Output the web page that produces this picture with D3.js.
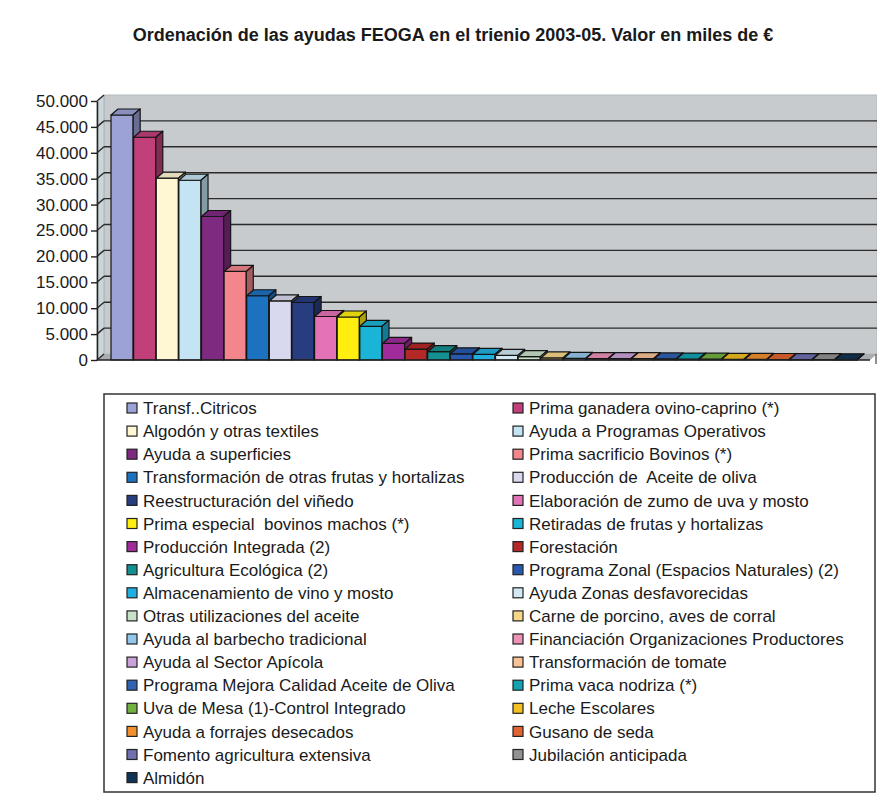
<!DOCTYPE html>
<html>
<head>
<meta charset="utf-8">
<script src="https://cdn.jsdelivr.net/npm/d3@7"></script>
<style>
  body { margin: 0; background: #fff; }
  text { font-family: "Liberation Sans", Arial, sans-serif; fill: #1a1a1a; white-space: pre; }
</style>
</head>
<body>
<div id="chart"></div>
<script>
const categories = [
  "Transf..Citricos", "Prima ganadera ovino-caprino (*)",
  "Algodón y otras textiles", "Ayuda a Programas Operativos",
  "Ayuda a superficies", "Prima sacrificio Bovinos (*)",
  "Transformación de otras frutas y hortalizas", "Producción de  Aceite de oliva",
  "Reestructuración del viñedo", "Elaboración de zumo de uva y mosto",
  "Prima especial  bovinos machos (*)", "Retiradas de frutas y hortalizas",
  "Producción Integrada (2)", "Forestación",
  "Agricultura Ecológica (2)", "Programa Zonal (Espacios Naturales) (2)",
  "Almacenamiento de vino y mosto", "Ayuda Zonas desfavorecidas",
  "Otras utilizaciones del aceite", "Carne de porcino, aves de corral",
  "Ayuda al barbecho tradicional", "Financiación Organizaciones Productores",
  "Ayuda al Sector Apícola", "Transformación de tomate",
  "Programa Mejora Calidad Aceite de Oliva", "Prima vaca nodriza (*)",
  "Uva de Mesa (1)-Control Integrado", "Leche Escolares",
  "Ayuda a forrajes desecados", "Gusano de seda",
  "Fomento agricultura extensiva", "Jubilación anticipada",
  "Almidón"
];

const values = [
  47300, 43000, 35100, 34700, 27700, 17100, 12400, 11400, 11100, 8400, 8300,
  6500, 3200, 2100, 1600, 1200, 1100, 900, 650, 400, 300, 280, 260, 250,
  200, 180, 160, 130, 110, 100, 80, 60, 40
];

const colors = [
  "#9ca2d6", "#c2407a", "#fff7d4", "#c4e4f4", "#7e2a80", "#f2868c",
  "#1d72c0", "#d8d8ee", "#283c80", "#e472b6", "#ffee10", "#1ab4d6",
  "#a02c9c", "#b42828", "#149090", "#2858b0", "#20b0e0", "#d2e8f2",
  "#c8e2c8", "#f5d78a", "#94c8ea", "#ec92b6", "#c8a2d8", "#f8c294",
  "#3062b2", "#12a2b2", "#72b040", "#f2c020", "#f29030", "#e26430",
  "#7070b0", "#929292", "#123454"
];

const yTicks = d3.range(0, 50001, 5000);
const title = "Ordenación de las ayudas FEOGA en el trienio 2003-05. Valor en miles de €";

const W = 877, H = 794;
const dx = 7, dy = -6;

const locale = d3.formatLocale({decimal: ",", thousands: ".", grouping: [3], currency: ["", "€"]});
const fmt = locale.format(",d");

const svg = d3.select("#chart").append("svg")
  .attr("width", W).attr("height", H);

svg.append("text")
  .attr("x", 453).attr("y", 41)
  .attr("text-anchor", "middle")
  .style("font-size", "18px").style("font-weight", "bold")
  .text(title);

const x = d3.scaleBand().domain(categories).range([111, 857]).paddingInner(0.02);
const y = d3.scaleLinear().domain([0, 50000]).range([360, 101]);

const x0 = 97, xEnd = 870;
const yTop = y(50000), yBot = y(0);

// walls and floor
svg.append("polygon")
  .attr("points", [[x0 + dx, yTop + dy], [xEnd + dx, yTop + dy], [xEnd + dx, yBot + dy], [x0 + dx, yBot + dy]].join(" "))
  .attr("fill", "#c7cbce").attr("stroke", "#b4babd");
svg.append("polygon")
  .attr("points", [[x0, yBot], [x0, yTop], [x0 + dx, yTop + dy], [x0 + dx, yBot + dy]].join(" "))
  .attr("fill", "#ccd6da").attr("stroke", "#a8b4b8");
svg.append("polygon")
  .attr("points", [[x0, yBot], [xEnd, yBot], [xEnd + dx, yBot + dy], [x0 + dx, yBot + dy]].join(" "))
  .attr("fill", "#a9adb0");

// gridlines on back and side wall
const grid = svg.append("g").attr("stroke", "#2b2b2b").attr("stroke-width", 1.4);
grid.selectAll(".gb").data(yTicks.filter(t => t > 0 && t < 50000)).enter().append("line")
  .attr("x1", x0 + dx).attr("x2", xEnd + dx)
  .attr("y1", d => y(d) + dy).attr("y2", d => y(d) + dy);
grid.selectAll(".gs").data(yTicks).enter().append("line")
  .attr("x1", x0).attr("x2", x0 + dx)
  .attr("y1", d => y(d)).attr("y2", d => y(d) + dy);

// bars
const data = categories.map((c, i) => ({name: c, value: values[i], color: colors[i]}));
const bars = svg.selectAll(".bar").data(data).enter().append("g")
  .attr("stroke", "#151515").attr("stroke-width", 1.2).attr("stroke-linejoin", "round");

bars.append("rect")
  .attr("x", d => x(d.name)).attr("y", d => y(d.value))
  .attr("width", x.bandwidth()).attr("height", d => yBot - y(d.value))
  .attr("fill", d => d.color);
bars.append("polygon")
  .attr("points", d => {
    const a = x(d.name), b = a + x.bandwidth(), t = y(d.value);
    return [[a, t], [a + dx, t + dy], [b + dx, t + dy], [b, t]].join(" ");
  })
  .attr("fill", d => d3.color(d.color).darker(0.35));
bars.append("polygon")
  .attr("points", d => {
    const b = x(d.name) + x.bandwidth(), t = y(d.value);
    return [[b, t], [b + dx, t + dy], [b + dx, yBot + dy], [b, yBot]].join(" ");
  })
  .attr("fill", d => d3.color(d.color).darker(1.1));

// floor front edge
svg.append("line")
  .attr("x1", x0).attr("x2", xEnd).attr("y1", yBot).attr("y2", yBot)
  .attr("stroke", "#222").attr("stroke-width", 1.5);
svg.append("line")
  .attr("x1", xEnd + dx - 1).attr("x2", xEnd + dx - 1).attr("y1", yBot + dy).attr("y2", yBot + 4)
  .attr("stroke", "#444").attr("stroke-width", 1.2);

// y axis
const yAxis = svg.append("g")
  .attr("transform", `translate(${x0},0)`)
  .call(d3.axisLeft(y).tickValues(yTicks).tickFormat(fmt).tickSize(6).tickPadding(3).tickSizeOuter(0));
yAxis.select(".domain").attr("stroke", "#222").attr("stroke-width", 1.5);
yAxis.selectAll(".tick line").attr("stroke", "#222").attr("stroke-width", 1.4);
yAxis.selectAll(".tick text")
  .style("font-size", "17px").style("font-family", "'Liberation Sans', Arial, sans-serif")
  .attr("fill", "#1a1a1a");

// legend
const lg = svg.append("g");
lg.append("rect")
  .attr("x", 104).attr("y", 394).attr("width", 771).attr("height", 398)
  .attr("fill", "#fff").attr("stroke", "#333").attr("stroke-width", 1.5);

const items = lg.selectAll(".item").data(data).enter().append("g")
  .attr("transform", (d, i) => `translate(${i % 2 === 0 ? 127 : 513},${408 + Math.floor(i / 2) * 23.1})`);
items.append("rect")
  .attr("x", 0).attr("y", -5).attr("width", 10).attr("height", 10)
  .attr("fill", d => d.color).attr("stroke", "#222").attr("stroke-width", 1.2);
items.append("text")
  .attr("x", 16).attr("y", 0).attr("dy", "0.36em")
  .style("font-size", "17px")
  .text(d => d.name);
</script>
</body>
</html>
